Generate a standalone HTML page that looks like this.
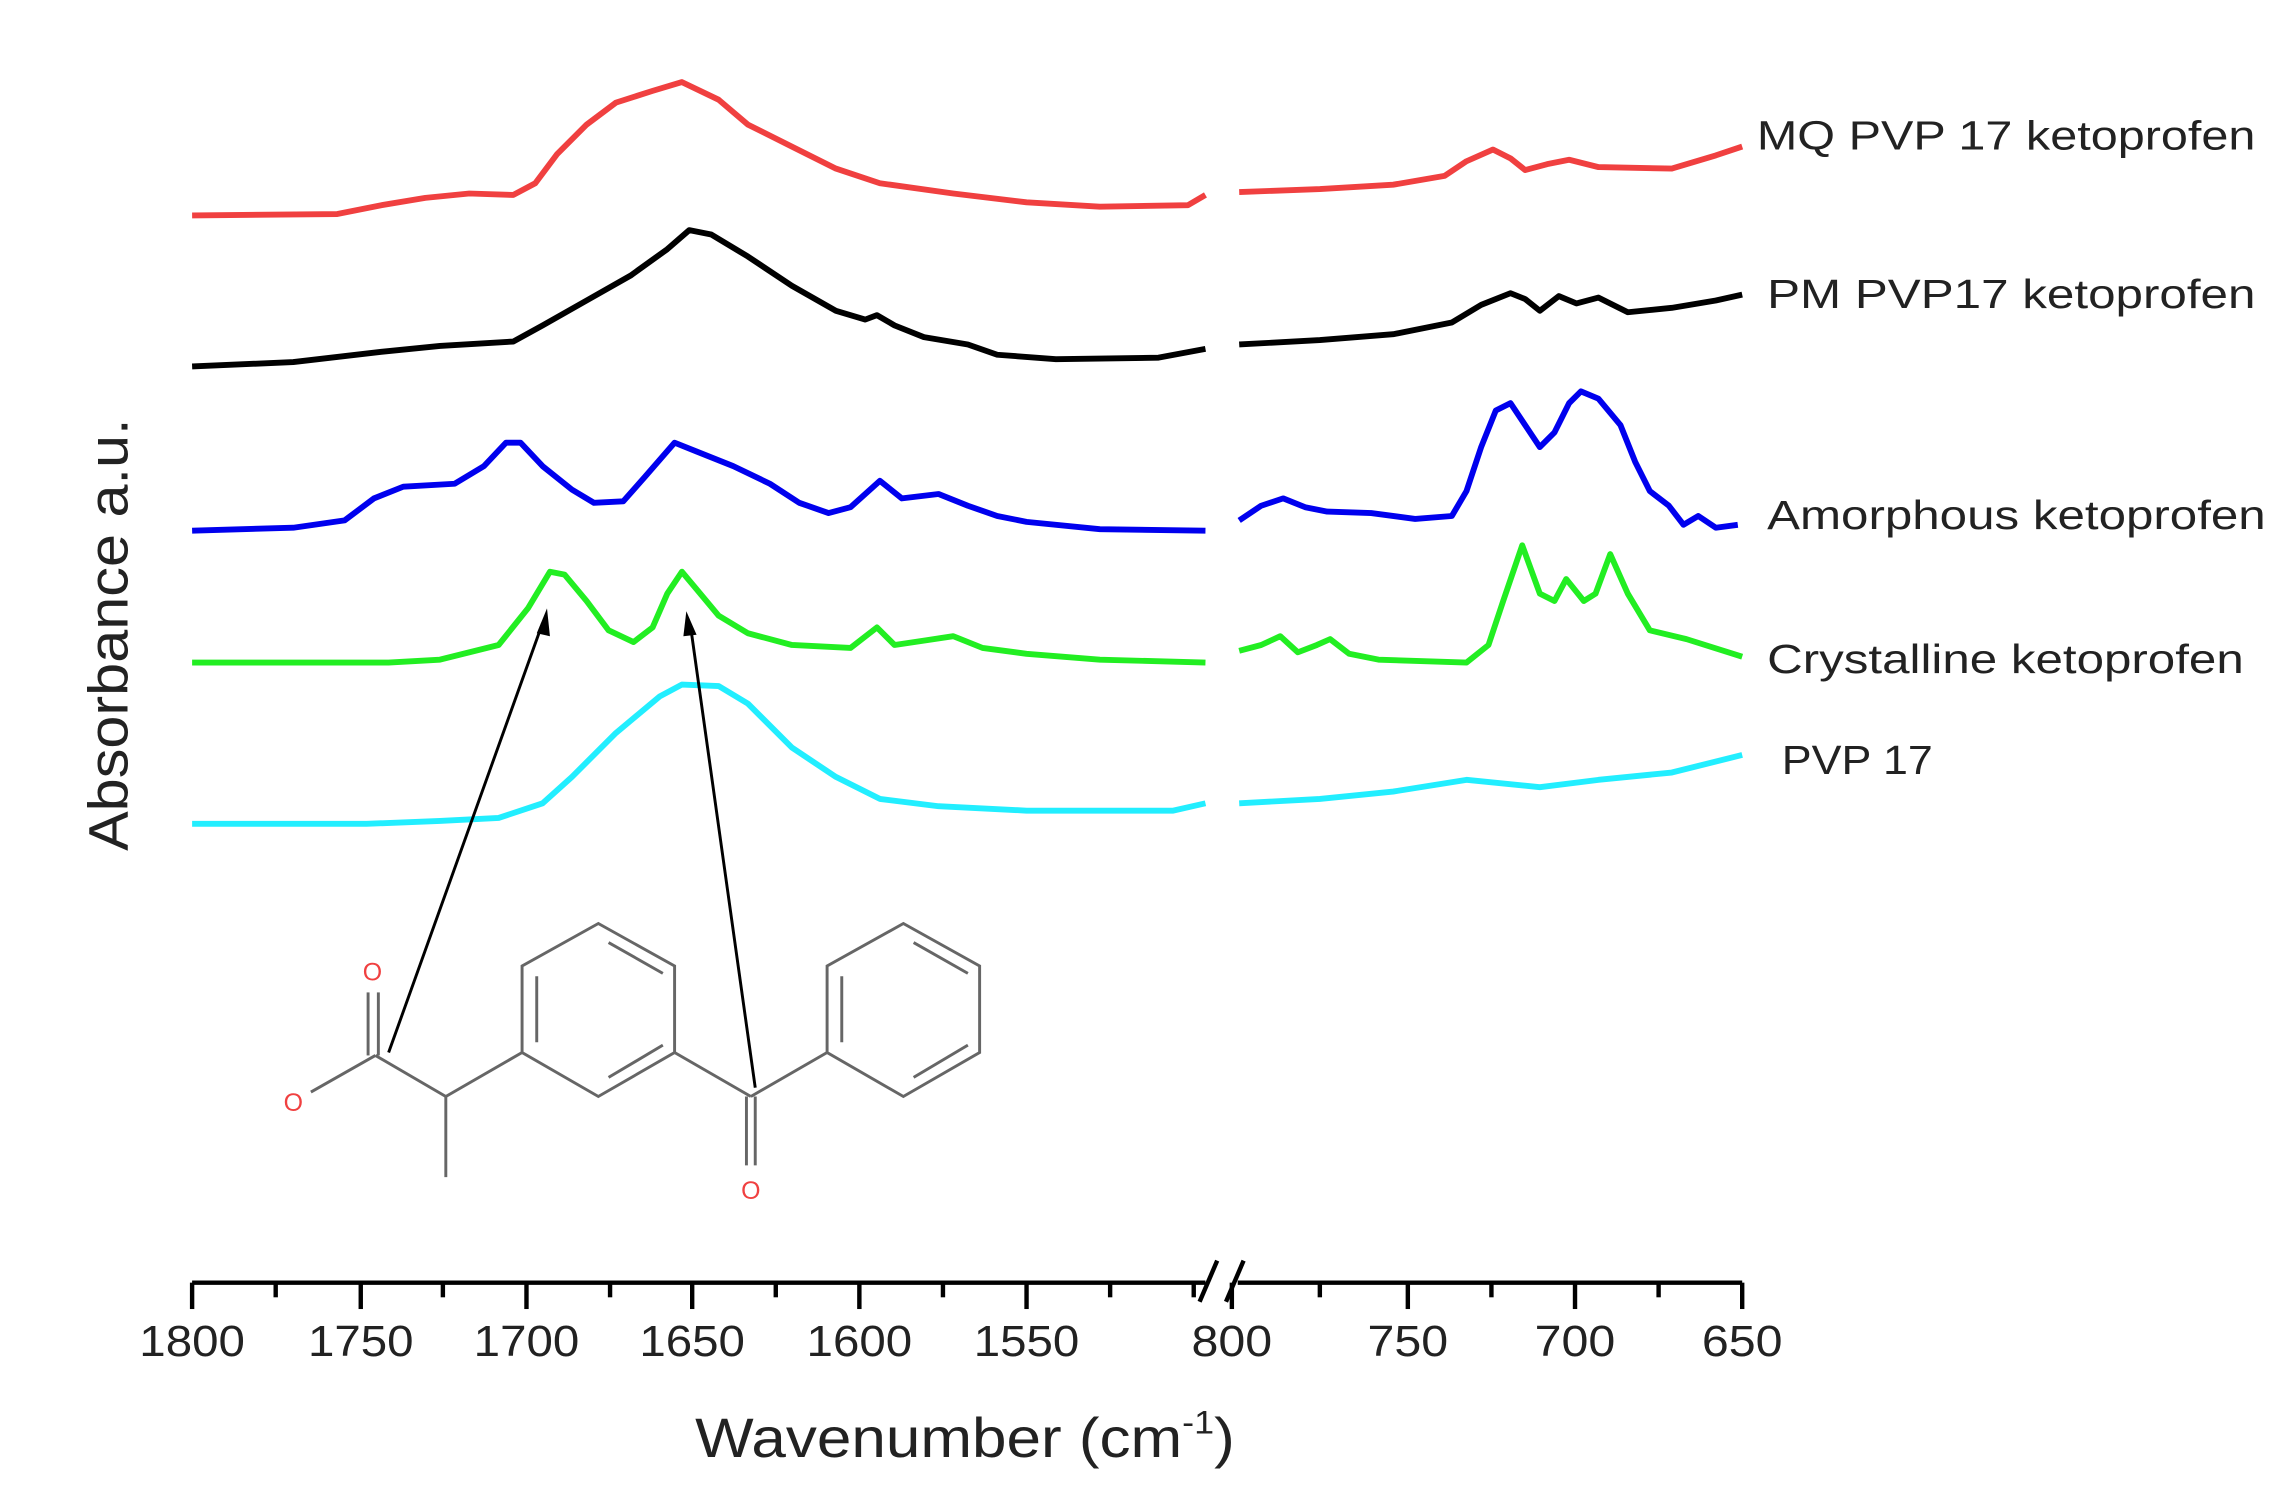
<!DOCTYPE html>
<html><head><meta charset="utf-8">
<style>
html,body{margin:0;padding:0;background:#fff;}
svg{display:block;}
text{font-family:"Liberation Sans",sans-serif;}
</style></head>
<body>
<svg width="2276" height="1504" viewBox="0 0 1552 1026" preserveAspectRatio="none" xmlns="http://www.w3.org/2000/svg">
<rect width="1552" height="1026" fill="#fff"/>
<g fill="none" stroke-width="4" stroke-linejoin="round">
<polyline stroke="#f04040" points="131,147 230,146 260,140 290,135 320,132 350,133 365,125 380,105 400,85 420,70 445,62 465,56 490,68 510,85 540,100 570,115 600,125 650,132 700,138 750,141 810,140 822,133"/>
<polyline stroke="#f04040" points="845,131 900,129 950,126 985,120 1000,110 1018,102 1030,108 1040,116 1055,112 1070,109 1090,114 1140,115 1170,106 1188,100"/>
<polyline stroke="#000" points="131,250 200,247 260,240 300,236 350,233 370,222 400,205 430,188 455,170 470,157 485,160 510,175 540,195 570,212 590,218 598,215 610,222 630,230 660,235 680,242 720,245 790,244 822,238"/>
<polyline stroke="#000" points="845,235 900,232 950,228 990,220 1010,208 1030,200 1040,204 1050,212 1063,202 1075,207 1090,203 1110,213 1140,210 1170,205 1188,201"/>
<polyline stroke="#0000ee" points="131,362 200,360 235,355 255,340 275,332 310,330 330,318 345,302 355,302 370,318 390,334 405,343 425,342 440,325 460,302 475,308 500,318 525,330 545,343 565,350 580,346 600,328 615,340 640,337 660,345 680,352 700,356 750,361 822,362"/>
<polyline stroke="#0000ee" points="845,355 860,345 875,340 890,346 905,349 935,350 965,354 990,352 1000,335 1010,305 1020,280 1030,275 1040,290 1050,305 1060,295 1070,275 1078,267 1090,272 1105,290 1115,315 1125,335 1138,345 1148,358 1158,352 1170,360 1185,358"/>
<polyline stroke="#22ee22" points="131,452 265,452 300,450 340,440 360,415 375,390 385,392 400,410 415,430 432,438 445,428 455,405 465,390 475,402 490,420 510,432 540,440 580,442 598,428 610,440 630,437 650,434 670,442 700,446 750,450 822,452"/>
<polyline stroke="#22ee22" points="845,444 860,440 873,434 885,445 898,440 907,436 920,446 940,450 1000,452 1015,440 1025,410 1038,372 1050,405 1060,410 1068,395 1080,410 1088,405 1098,378 1110,405 1125,430 1150,436 1188,448"/>
<polyline stroke="#22eeff" points="131,562 250,562 300,560 340,558 370,548 390,530 420,500 450,475 465,467 490,468 510,480 540,510 570,530 600,545 640,550 700,553 800,553 822,548"/>
<polyline stroke="#22eeff" points="845,548 900,545 950,540 1000,532 1050,537 1090,532 1140,527 1188,515"/>
</g>
<g stroke="#666" stroke-width="2" fill="none">
<polygon points="408,630 460,659 460,718 408,748 356,718 356,659"/>
<polygon points="616,630 668,659 668,718 616,748 564,718 564,659"/>
<line x1="366" y1="666" x2="366" y2="711"/>
<line x1="415" y1="643" x2="452" y2="664"/>
<line x1="452" y1="713" x2="415" y2="735"/>
<line x1="574" y1="666" x2="574" y2="711"/>
<line x1="623" y1="643" x2="660" y2="664"/>
<line x1="660" y1="713" x2="623" y2="735"/>
<line x1="356" y1="718" x2="304" y2="748"/>
<line x1="304" y1="748" x2="304" y2="803"/>
<line x1="304" y1="748" x2="256" y2="720"/>
<line x1="251" y1="720" x2="251" y2="677"/>
<line x1="258" y1="720" x2="258" y2="677"/>
<line x1="256" y1="720" x2="212" y2="745"/>
<line x1="460" y1="718" x2="512" y2="748"/>
<line x1="512" y1="748" x2="564" y2="718"/>
<line x1="509" y1="748" x2="509" y2="795"/>
<line x1="515" y1="748" x2="515" y2="795"/>
</g>
<g fill="#f04040" font-size="17" text-anchor="middle">
<text x="254" y="669">O</text>
<text x="200" y="758">O</text>
<text x="512" y="818">O</text>
</g>
<g stroke="#000" stroke-width="2">
<line x1="265" y1="718" x2="370" y2="425"/>
<line x1="515" y1="742" x2="471" y2="428"/>
</g>
<polygon points="373,415 366,432 375,434" fill="#000"/>
<polygon points="468,417 466,434 475,433" fill="#000"/>
<g stroke="#000" stroke-width="3" fill="none">
<line x1="131" y1="875" x2="822" y2="875"/>
<line x1="844" y1="875" x2="1188" y2="875"/>
<line x1="818" y1="888" x2="830" y2="860"/>
<line x1="836" y1="888" x2="848" y2="860"/>
</g>
<g stroke="#000" stroke-width="3">
<line x1="131" y1="875" x2="131" y2="893"/>
<line x1="246" y1="875" x2="246" y2="893"/>
<line x1="359" y1="875" x2="359" y2="893"/>
<line x1="472" y1="875" x2="472" y2="893"/>
<line x1="586" y1="875" x2="586" y2="893"/>
<line x1="700" y1="875" x2="700" y2="893"/>
<line x1="840" y1="875" x2="840" y2="893"/>
<line x1="960" y1="875" x2="960" y2="893"/>
<line x1="1074" y1="875" x2="1074" y2="893"/>
<line x1="1188" y1="875" x2="1188" y2="893"/>
<line x1="188" y1="875" x2="188" y2="885"/>
<line x1="302" y1="875" x2="302" y2="885"/>
<line x1="416" y1="875" x2="416" y2="885"/>
<line x1="529" y1="875" x2="529" y2="885"/>
<line x1="643" y1="875" x2="643" y2="885"/>
<line x1="757" y1="875" x2="757" y2="885"/>
<line x1="814" y1="875" x2="814" y2="885"/>
<line x1="900" y1="875" x2="900" y2="885"/>
<line x1="1017" y1="875" x2="1017" y2="885"/>
<line x1="1131" y1="875" x2="1131" y2="885"/>
</g>
<g font-size="30" fill="#222" text-anchor="middle">
<text x="131" y="925" textLength="72" lengthAdjust="spacingAndGlyphs">1800</text>
<text x="246" y="925" textLength="72" lengthAdjust="spacingAndGlyphs">1750</text>
<text x="359" y="925" textLength="72" lengthAdjust="spacingAndGlyphs">1700</text>
<text x="472" y="925" textLength="72" lengthAdjust="spacingAndGlyphs">1650</text>
<text x="586" y="925" textLength="72" lengthAdjust="spacingAndGlyphs">1600</text>
<text x="700" y="925" textLength="72" lengthAdjust="spacingAndGlyphs">1550</text>
<text x="840" y="925" textLength="55" lengthAdjust="spacingAndGlyphs">800</text>
<text x="960" y="925" textLength="55" lengthAdjust="spacingAndGlyphs">750</text>
<text x="1074" y="925" textLength="55" lengthAdjust="spacingAndGlyphs">700</text>
<text x="1188" y="925" textLength="55" lengthAdjust="spacingAndGlyphs">650</text>
</g>
<text x="474" y="994" font-size="38" fill="#222" textLength="368" lengthAdjust="spacingAndGlyphs">Wavenumber (cm<tspan font-size="22" dy="-16">-1</tspan><tspan dy="16">)</tspan></text>
<text transform="translate(87,433) rotate(-90)" font-size="38" fill="#222" text-anchor="middle" textLength="295" lengthAdjust="spacingAndGlyphs">Absorbance a.u.</text>
<g font-size="28" fill="#222">
<text x="1198" y="102" textLength="340" lengthAdjust="spacingAndGlyphs">MQ PVP 17 ketoprofen</text>
<text x="1205" y="210" textLength="333" lengthAdjust="spacingAndGlyphs">PM PVP17 ketoprofen</text>
<text x="1205" y="361" textLength="340" lengthAdjust="spacingAndGlyphs">Amorphous ketoprofen</text>
<text x="1205" y="459" textLength="325" lengthAdjust="spacingAndGlyphs">Crystalline ketoprofen</text>
<text x="1215" y="528" textLength="103" lengthAdjust="spacingAndGlyphs">PVP 17</text>
</g>
</svg>
</body></html>
